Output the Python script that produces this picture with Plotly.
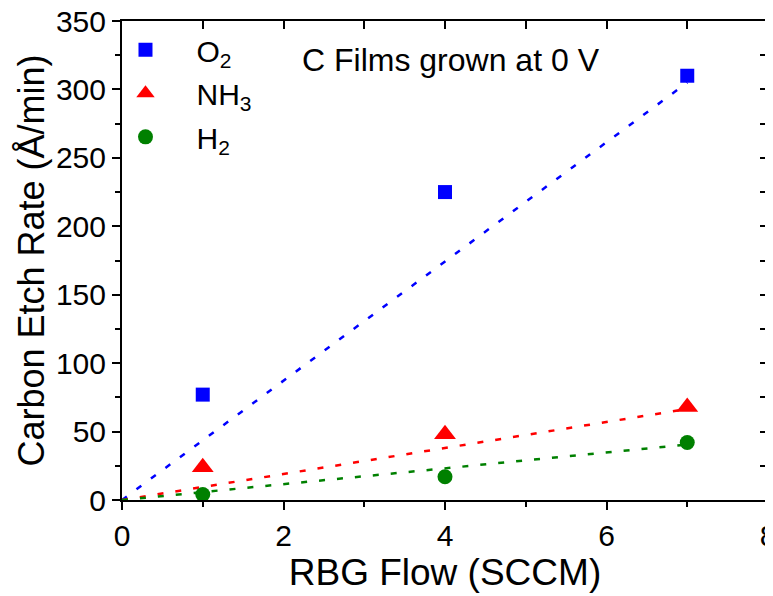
import plotly.graph_objects as go

flow = [1, 4, 7]
o2 = [77, 225, 310]
nh3 = [24, 48, 68]
h2 = [4, 17, 42]

fit_x = [0, 7]
o2_fit = [0, 305]
nh3_fit = [0, 66.5]
h2_fit = [0, 40.5]

x_ticks = [0, 2, 4, 6, 8]
y_ticks = [0, 50, 100, 150, 200, 250, 300, 350]

BLUE = "#0000FF"
RED = "#FF0000"
GREEN = "#008000"
FONT = "Liberation Sans, Arial, sans-serif"
NB = "\u00a0\u00a0\u00a0\u2009"

W, H = 765, 588
L, R, T, B = 114, 5, 13, 96

fig = go.Figure()
dash = "6px,12px"
for fy, col in [(o2_fit, BLUE), (nh3_fit, RED), (h2_fit, GREEN)]:
    fig.add_trace(go.Scatter(x=fit_x, y=fy, mode="lines", showlegend=False,
                             line=dict(color=col, width=2.5, dash=dash), hoverinfo="skip"))

fig.add_trace(go.Scatter(x=flow, y=o2, mode="markers", name=NB + "O<sub>2</sub>", legendgroup="a",
                         marker=dict(symbol="square", size=14, color=BLUE)))
fig.add_trace(go.Scatter(x=flow, y=nh3, mode="markers", name=NB + "NH<sub>3</sub>", legendgroup="b",
                         marker=dict(symbol="triangle-up", size=19, color=RED)))
fig.add_trace(go.Scatter(x=flow, y=h2, mode="markers", name=NB + "H<sub>2</sub>", legendgroup="c",
                         marker=dict(symbol="circle", size=15, color=GREEN)))
# invisible trace on the overlay axes so the inside ticks on top/right are drawn
fig.add_trace(go.Scatter(x=flow, y=o2, xaxis="x2", yaxis="y2", mode="markers", showlegend=False,
                         marker=dict(opacity=0), hoverinfo="skip"))

axis_common = dict(showgrid=False, zeroline=False, showline=True, mirror=True,
                   linecolor="black", linewidth=2, ticklabeloverflow="allow",
                   tickcolor="black", tickwidth=2, ticklen=8, automargin=False,
                   tickfont=dict(family=FONT, size=30, color="black"))
mirror_common = dict(showticklabels=False, showgrid=False, zeroline=False, showline=False,
                     tickcolor="black", tickwidth=2, ticklen=8,
                     ticks="inside", automargin=False)

fig.update_layout(
    width=W, height=H,
    margin=dict(l=L, r=R, t=T, b=B, autoexpand=False),
    paper_bgcolor="white", plot_bgcolor="white",
    font=dict(family=FONT, color="black"),
    xaxis=dict(range=[0, 8], tickmode="array", tickvals=x_ticks, ticks="outside",
               minor=dict(ticks="outside", dtick=1, ticklen=5, tickwidth=2, tickcolor="black"),
               title=dict(text="RBG Flow (SCCM)", font=dict(family=FONT, size=37), standoff=7),
               **axis_common),
    yaxis=dict(range=[0, 350], tickmode="array", tickvals=y_ticks, ticks="outside",
               minor=dict(ticks="outside", dtick=25, ticklen=5, tickwidth=2, tickcolor="black"),
               title=dict(text="Carbon Etch Rate (Å/min)", font=dict(family=FONT, size=36), standoff=0),
               **axis_common),
    xaxis2=dict(overlaying="x", side="top", anchor="y", range=[0, 8], tickmode="array", tickvals=x_ticks,
                minor=dict(ticks="inside", dtick=1, ticklen=8, tickwidth=2, tickcolor="black"),
                **mirror_common),
    yaxis2=dict(overlaying="y", side="right", anchor="x", range=[0, 350], tickmode="array", tickvals=y_ticks,
                minor=dict(ticks="inside", dtick=25, ticklen=8, tickwidth=2, tickcolor="black"),
                **mirror_common),
    legend=dict(x=0.0054, y=0.994, xanchor="left", yanchor="top", bgcolor="rgba(0,0,0,0)",
                font=dict(family=FONT, size=30), itemwidth=30, tracegroupgap=1.5),
    annotations=[dict(text="C Films grown at 0 V", x=(300 - 122) / 646, y=(500 - 60) / 479,
                      xref="paper", yref="paper",
                      xanchor="left", yanchor="middle", showarrow=False,
                      font=dict(family=FONT, size=32, color="black"))],
)

fig.write_html("out.html")
